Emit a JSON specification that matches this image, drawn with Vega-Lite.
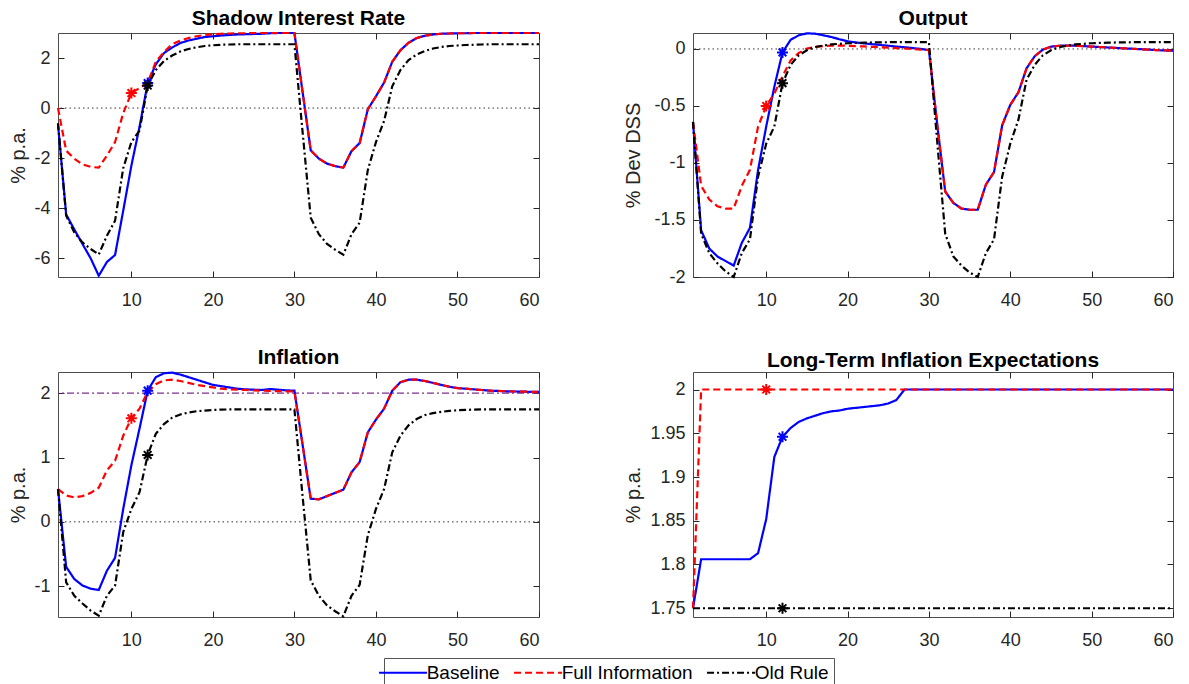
{
"$schema": "https://vega.github.io/schema/vega-lite/v6.json",
"padding": {"left": 7, "top": 7, "right": 0, "bottom": 0},
"datasets": {
"shadow": [
{"t":1,"Baseline":-0.64,"Full Information":0,"Old Rule":-0.6},
{"t":2,"Baseline":-4.25,"Full Information":-1.7,"Old Rule":-4.3},
{"t":3,"Baseline":-4.85,"Full Information":-2.02,"Old Rule":-4.97},
{"t":4,"Baseline":-5.43,"Full Information":-2.25,"Old Rule":-5.37},
{"t":5,"Baseline":-6.0,"Full Information":-2.35,"Old Rule":-5.63},
{"t":6,"Baseline":-6.7,"Full Information":-2.38,"Old Rule":-5.85},
{"t":7,"Baseline":-6.15,"Full Information":-1.9,"Old Rule":-5.1},
{"t":8,"Baseline":-5.87,"Full Information":-1.36,"Old Rule":-4.5},
{"t":9,"Baseline":-4.1,"Full Information":-0.2,"Old Rule":-2.4},
{"t":10,"Baseline":-2.3,"Full Information":0.6,"Old Rule":-1.36},
{"t":11,"Baseline":-0.75,"Full Information":0.8,"Old Rule":-0.9},
{"t":12,"Baseline":1.0,"Full Information":1.0,"Old Rule":0.9},
{"t":13,"Baseline":1.75,"Full Information":1.85,"Old Rule":1.52},
{"t":14,"Baseline":2.2,"Full Information":2.24,"Old Rule":1.88},
{"t":15,"Baseline":2.42,"Full Information":2.55,"Old Rule":2.1},
{"t":16,"Baseline":2.6,"Full Information":2.7,"Old Rule":2.26},
{"t":17,"Baseline":2.7,"Full Information":2.8,"Old Rule":2.36},
{"t":18,"Baseline":2.77,"Full Information":2.87,"Old Rule":2.43},
{"t":19,"Baseline":2.84,"Full Information":2.92,"Old Rule":2.48},
{"t":20,"Baseline":2.87,"Full Information":2.95,"Old Rule":2.51},
{"t":21,"Baseline":2.9,"Full Information":2.97,"Old Rule":2.53},
{"t":22,"Baseline":2.92,"Full Information":2.98,"Old Rule":2.54},
{"t":23,"Baseline":2.94,"Full Information":2.99,"Old Rule":2.55},
{"t":24,"Baseline":2.95,"Full Information":2.99,"Old Rule":2.55},
{"t":25,"Baseline":2.96,"Full Information":3.0,"Old Rule":2.55},
{"t":26,"Baseline":2.97,"Full Information":3.0,"Old Rule":2.55},
{"t":27,"Baseline":2.99,"Full Information":3.0,"Old Rule":2.55},
{"t":28,"Baseline":3.0,"Full Information":3.0,"Old Rule":2.55},
{"t":29,"Baseline":3.0,"Full Information":3.0,"Old Rule":2.55},
{"t":30,"Baseline":3.0,"Full Information":3.0,"Old Rule":2.55},
{"t":31,"Baseline":0.65,"Full Information":0.65,"Old Rule":-0.95},
{"t":32,"Baseline":-1.69,"Full Information":-1.69,"Old Rule":-4.38},
{"t":33,"Baseline":-2.02,"Full Information":-2.02,"Old Rule":-5.04},
{"t":34,"Baseline":-2.22,"Full Information":-2.22,"Old Rule":-5.43},
{"t":35,"Baseline":-2.32,"Full Information":-2.32,"Old Rule":-5.66},
{"t":36,"Baseline":-2.38,"Full Information":-2.38,"Old Rule":-5.86},
{"t":37,"Baseline":-1.72,"Full Information":-1.72,"Old Rule":-5.04},
{"t":38,"Baseline":-1.4,"Full Information":-1.4,"Old Rule":-4.58},
{"t":39,"Baseline":-0.05,"Full Information":-0.05,"Old Rule":-2.48},
{"t":40,"Baseline":0.47,"Full Information":0.47,"Old Rule":-1.36},
{"t":41,"Baseline":1.02,"Full Information":1.02,"Old Rule":-0.51},
{"t":42,"Baseline":1.85,"Full Information":1.85,"Old Rule":0.87},
{"t":43,"Baseline":2.31,"Full Information":2.31,"Old Rule":1.52},
{"t":44,"Baseline":2.61,"Full Information":2.61,"Old Rule":1.92},
{"t":45,"Baseline":2.8,"Full Information":2.8,"Old Rule":2.14},
{"t":46,"Baseline":2.89,"Full Information":2.89,"Old Rule":2.28},
{"t":47,"Baseline":2.94,"Full Information":2.94,"Old Rule":2.38},
{"t":48,"Baseline":2.97,"Full Information":2.97,"Old Rule":2.44},
{"t":49,"Baseline":2.98,"Full Information":2.98,"Old Rule":2.48},
{"t":50,"Baseline":2.99,"Full Information":2.99,"Old Rule":2.5},
{"t":51,"Baseline":2.99,"Full Information":2.99,"Old Rule":2.52},
{"t":52,"Baseline":3.0,"Full Information":3.0,"Old Rule":2.53},
{"t":53,"Baseline":3.0,"Full Information":3.0,"Old Rule":2.54},
{"t":54,"Baseline":3.0,"Full Information":3.0,"Old Rule":2.55},
{"t":55,"Baseline":3.0,"Full Information":3.0,"Old Rule":2.55},
{"t":56,"Baseline":3.0,"Full Information":3.0,"Old Rule":2.55},
{"t":57,"Baseline":3.0,"Full Information":3.0,"Old Rule":2.55},
{"t":58,"Baseline":3.0,"Full Information":3.0,"Old Rule":2.55},
{"t":59,"Baseline":3.0,"Full Information":3.0,"Old Rule":2.55},
{"t":60,"Baseline":3.0,"Full Information":3.0,"Old Rule":2.55}
],
"output": [
{"t":1,"Baseline":-0.64,"Full Information":-0.64,"Old Rule":-0.64},
{"t":2,"Baseline":-1.59,"Full Information":-1.2,"Old Rule":-1.62},
{"t":3,"Baseline":-1.75,"Full Information":-1.32,"Old Rule":-1.79},
{"t":4,"Baseline":-1.82,"Full Information":-1.38,"Old Rule":-1.88},
{"t":5,"Baseline":-1.86,"Full Information":-1.4,"Old Rule":-1.95},
{"t":6,"Baseline":-1.9,"Full Information":-1.4,"Old Rule":-2.0},
{"t":7,"Baseline":-1.7,"Full Information":-1.2,"Old Rule":-1.79},
{"t":8,"Baseline":-1.57,"Full Information":-1.06,"Old Rule":-1.67},
{"t":9,"Baseline":-1.06,"Full Information":-0.68,"Old Rule":-1.12},
{"t":10,"Baseline":-0.68,"Full Information":-0.5,"Old Rule":-0.83},
{"t":11,"Baseline":-0.33,"Full Information":-0.39,"Old Rule":-0.68},
{"t":12,"Baseline":-0.03,"Full Information":-0.24,"Old Rule":-0.3},
{"t":13,"Baseline":0.08,"Full Information":-0.1,"Old Rule":-0.14},
{"t":14,"Baseline":0.12,"Full Information":-0.035,"Old Rule":-0.055},
{"t":15,"Baseline":0.137,"Full Information":0.003,"Old Rule":-0.012},
{"t":16,"Baseline":0.134,"Full Information":0.018,"Old Rule":0.017},
{"t":17,"Baseline":0.12,"Full Information":0.026,"Old Rule":0.03},
{"t":18,"Baseline":0.105,"Full Information":0.03,"Old Rule":0.04},
{"t":19,"Baseline":0.085,"Full Information":0.03,"Old Rule":0.045},
{"t":20,"Baseline":0.067,"Full Information":0.028,"Old Rule":0.05},
{"t":21,"Baseline":0.057,"Full Information":0.025,"Old Rule":0.053},
{"t":22,"Baseline":0.049,"Full Information":0.022,"Old Rule":0.055},
{"t":23,"Baseline":0.042,"Full Information":0.018,"Old Rule":0.057},
{"t":24,"Baseline":0.035,"Full Information":0.015,"Old Rule":0.058},
{"t":25,"Baseline":0.028,"Full Information":0.011,"Old Rule":0.059},
{"t":26,"Baseline":0.021,"Full Information":0.007,"Old Rule":0.06},
{"t":27,"Baseline":0.015,"Full Information":0.004,"Old Rule":0.06},
{"t":28,"Baseline":0.008,"Full Information":0.0,"Old Rule":0.06},
{"t":29,"Baseline":0.0,"Full Information":-0.005,"Old Rule":0.06},
{"t":30,"Baseline":-0.01,"Full Information":-0.01,"Old Rule":0.06},
{"t":31,"Baseline":-0.65,"Full Information":-0.65,"Old Rule":-0.8},
{"t":32,"Baseline":-1.25,"Full Information":-1.25,"Old Rule":-1.62},
{"t":33,"Baseline":-1.35,"Full Information":-1.35,"Old Rule":-1.82},
{"t":34,"Baseline":-1.4,"Full Information":-1.4,"Old Rule":-1.9},
{"t":35,"Baseline":-1.41,"Full Information":-1.41,"Old Rule":-1.96},
{"t":36,"Baseline":-1.41,"Full Information":-1.41,"Old Rule":-2.0},
{"t":37,"Baseline":-1.19,"Full Information":-1.19,"Old Rule":-1.79},
{"t":38,"Baseline":-1.08,"Full Information":-1.08,"Old Rule":-1.67},
{"t":39,"Baseline":-0.67,"Full Information":-0.67,"Old Rule":-1.12},
{"t":40,"Baseline":-0.49,"Full Information":-0.49,"Old Rule":-0.83},
{"t":41,"Baseline":-0.38,"Full Information":-0.38,"Old Rule":-0.62},
{"t":42,"Baseline":-0.17,"Full Information":-0.17,"Old Rule":-0.27},
{"t":43,"Baseline":-0.064,"Full Information":-0.064,"Old Rule":-0.14},
{"t":44,"Baseline":-0.006,"Full Information":-0.006,"Old Rule":-0.055},
{"t":45,"Baseline":0.02,"Full Information":0.02,"Old Rule":-0.012},
{"t":46,"Baseline":0.028,"Full Information":0.028,"Old Rule":0.015},
{"t":47,"Baseline":0.03,"Full Information":0.03,"Old Rule":0.03},
{"t":48,"Baseline":0.028,"Full Information":0.028,"Old Rule":0.04},
{"t":49,"Baseline":0.025,"Full Information":0.025,"Old Rule":0.045},
{"t":50,"Baseline":0.021,"Full Information":0.021,"Old Rule":0.05},
{"t":51,"Baseline":0.017,"Full Information":0.017,"Old Rule":0.053},
{"t":52,"Baseline":0.013,"Full Information":0.013,"Old Rule":0.055},
{"t":53,"Baseline":0.009,"Full Information":0.009,"Old Rule":0.057},
{"t":54,"Baseline":0.005,"Full Information":0.005,"Old Rule":0.058},
{"t":55,"Baseline":0.002,"Full Information":0.002,"Old Rule":0.059},
{"t":56,"Baseline":-0.002,"Full Information":-0.002,"Old Rule":0.06},
{"t":57,"Baseline":-0.006,"Full Information":-0.006,"Old Rule":0.06},
{"t":58,"Baseline":-0.01,"Full Information":-0.01,"Old Rule":0.06},
{"t":59,"Baseline":-0.013,"Full Information":-0.013,"Old Rule":0.06},
{"t":60,"Baseline":-0.016,"Full Information":-0.016,"Old Rule":0.06}
],
"infl": [
{"t":1,"Baseline":0.51,"Full Information":0.51,"Old Rule":0.51},
{"t":2,"Baseline":-0.7,"Full Information":0.41,"Old Rule":-0.94},
{"t":3,"Baseline":-0.89,"Full Information":0.38,"Old Rule":-1.15},
{"t":4,"Baseline":-0.99,"Full Information":0.4,"Old Rule":-1.27},
{"t":5,"Baseline":-1.04,"Full Information":0.45,"Old Rule":-1.38},
{"t":6,"Baseline":-1.06,"Full Information":0.53,"Old Rule":-1.46},
{"t":7,"Baseline":-0.76,"Full Information":0.8,"Old Rule":-1.15},
{"t":8,"Baseline":-0.56,"Full Information":0.95,"Old Rule":-0.99},
{"t":9,"Baseline":0.2,"Full Information":1.34,"Old Rule":-0.16},
{"t":10,"Baseline":0.88,"Full Information":1.61,"Old Rule":0.2},
{"t":11,"Baseline":1.45,"Full Information":1.76,"Old Rule":0.46},
{"t":12,"Baseline":2.04,"Full Information":2.02,"Old Rule":1.04},
{"t":13,"Baseline":2.25,"Full Information":2.14,"Old Rule":1.37},
{"t":14,"Baseline":2.31,"Full Information":2.2,"Old Rule":1.52},
{"t":15,"Baseline":2.32,"Full Information":2.21,"Old Rule":1.62},
{"t":16,"Baseline":2.29,"Full Information":2.19,"Old Rule":1.67},
{"t":17,"Baseline":2.25,"Full Information":2.16,"Old Rule":1.7},
{"t":18,"Baseline":2.21,"Full Information":2.13,"Old Rule":1.72},
{"t":19,"Baseline":2.17,"Full Information":2.11,"Old Rule":1.73},
{"t":20,"Baseline":2.13,"Full Information":2.09,"Old Rule":1.74},
{"t":21,"Baseline":2.11,"Full Information":2.07,"Old Rule":1.745},
{"t":22,"Baseline":2.09,"Full Information":2.06,"Old Rule":1.748},
{"t":23,"Baseline":2.07,"Full Information":2.055,"Old Rule":1.75},
{"t":24,"Baseline":2.06,"Full Information":2.05,"Old Rule":1.75},
{"t":25,"Baseline":2.055,"Full Information":2.045,"Old Rule":1.75},
{"t":26,"Baseline":2.05,"Full Information":2.04,"Old Rule":1.75},
{"t":27,"Baseline":2.065,"Full Information":2.035,"Old Rule":1.75},
{"t":28,"Baseline":2.055,"Full Information":2.033,"Old Rule":1.75},
{"t":29,"Baseline":2.045,"Full Information":2.03,"Old Rule":1.75},
{"t":30,"Baseline":2.04,"Full Information":2.03,"Old Rule":1.75},
{"t":31,"Baseline":1.2,"Full Information":1.2,"Old Rule":0.4},
{"t":32,"Baseline":0.36,"Full Information":0.36,"Old Rule":-0.91},
{"t":33,"Baseline":0.35,"Full Information":0.35,"Old Rule":-1.15},
{"t":34,"Baseline":0.4,"Full Information":0.4,"Old Rule":-1.3},
{"t":35,"Baseline":0.45,"Full Information":0.45,"Old Rule":-1.39},
{"t":36,"Baseline":0.5,"Full Information":0.5,"Old Rule":-1.47},
{"t":37,"Baseline":0.77,"Full Information":0.77,"Old Rule":-1.15},
{"t":38,"Baseline":0.93,"Full Information":0.93,"Old Rule":-0.98},
{"t":39,"Baseline":1.39,"Full Information":1.39,"Old Rule":-0.21},
{"t":40,"Baseline":1.59,"Full Information":1.59,"Old Rule":0.2},
{"t":41,"Baseline":1.76,"Full Information":1.76,"Old Rule":0.51},
{"t":42,"Baseline":2.04,"Full Information":2.04,"Old Rule":1.08},
{"t":43,"Baseline":2.17,"Full Information":2.17,"Old Rule":1.34},
{"t":44,"Baseline":2.21,"Full Information":2.21,"Old Rule":1.5},
{"t":45,"Baseline":2.21,"Full Information":2.21,"Old Rule":1.6},
{"t":46,"Baseline":2.19,"Full Information":2.19,"Old Rule":1.66},
{"t":47,"Baseline":2.16,"Full Information":2.16,"Old Rule":1.69},
{"t":48,"Baseline":2.13,"Full Information":2.13,"Old Rule":1.71},
{"t":49,"Baseline":2.1,"Full Information":2.1,"Old Rule":1.725},
{"t":50,"Baseline":2.08,"Full Information":2.08,"Old Rule":1.735},
{"t":51,"Baseline":2.07,"Full Information":2.07,"Old Rule":1.74},
{"t":52,"Baseline":2.06,"Full Information":2.06,"Old Rule":1.745},
{"t":53,"Baseline":2.05,"Full Information":2.05,"Old Rule":1.748},
{"t":54,"Baseline":2.04,"Full Information":2.04,"Old Rule":1.75},
{"t":55,"Baseline":2.035,"Full Information":2.035,"Old Rule":1.75},
{"t":56,"Baseline":2.03,"Full Information":2.03,"Old Rule":1.75},
{"t":57,"Baseline":2.027,"Full Information":2.027,"Old Rule":1.75},
{"t":58,"Baseline":2.025,"Full Information":2.025,"Old Rule":1.75},
{"t":59,"Baseline":2.022,"Full Information":2.022,"Old Rule":1.75},
{"t":60,"Baseline":2.02,"Full Information":2.02,"Old Rule":1.75}
],
"lt": [
{"t":1,"Baseline":1.75,"Full Information":1.75,"Old Rule":1.75},
{"t":2,"Baseline":1.806,"Full Information":2.0,"Old Rule":1.75},
{"t":3,"Baseline":1.806,"Full Information":2.0,"Old Rule":1.75},
{"t":4,"Baseline":1.806,"Full Information":2.0,"Old Rule":1.75},
{"t":5,"Baseline":1.806,"Full Information":2.0,"Old Rule":1.75},
{"t":6,"Baseline":1.806,"Full Information":2.0,"Old Rule":1.75},
{"t":7,"Baseline":1.806,"Full Information":2.0,"Old Rule":1.75},
{"t":8,"Baseline":1.806,"Full Information":2.0,"Old Rule":1.75},
{"t":9,"Baseline":1.813,"Full Information":2.0,"Old Rule":1.75},
{"t":10,"Baseline":1.852,"Full Information":2.0,"Old Rule":1.75},
{"t":11,"Baseline":1.923,"Full Information":2.0,"Old Rule":1.75},
{"t":12,"Baseline":1.946,"Full Information":2.0,"Old Rule":1.75},
{"t":13,"Baseline":1.956,"Full Information":2.0,"Old Rule":1.75},
{"t":14,"Baseline":1.963,"Full Information":2.0,"Old Rule":1.75},
{"t":15,"Baseline":1.967,"Full Information":2.0,"Old Rule":1.75},
{"t":16,"Baseline":1.970,"Full Information":2.0,"Old Rule":1.75},
{"t":17,"Baseline":1.973,"Full Information":2.0,"Old Rule":1.75},
{"t":18,"Baseline":1.975,"Full Information":2.0,"Old Rule":1.75},
{"t":19,"Baseline":1.976,"Full Information":2.0,"Old Rule":1.75},
{"t":20,"Baseline":1.978,"Full Information":2.0,"Old Rule":1.75},
{"t":21,"Baseline":1.979,"Full Information":2.0,"Old Rule":1.75},
{"t":22,"Baseline":1.980,"Full Information":2.0,"Old Rule":1.75},
{"t":23,"Baseline":1.981,"Full Information":2.0,"Old Rule":1.75},
{"t":24,"Baseline":1.982,"Full Information":2.0,"Old Rule":1.75},
{"t":25,"Baseline":1.984,"Full Information":2.0,"Old Rule":1.75},
{"t":26,"Baseline":1.988,"Full Information":2.0,"Old Rule":1.75},
{"t":27,"Baseline":2.0,"Full Information":2.0,"Old Rule":1.75},
{"t":28,"Baseline":2.0,"Full Information":2.0,"Old Rule":1.75},
{"t":29,"Baseline":2.0,"Full Information":2.0,"Old Rule":1.75},
{"t":30,"Baseline":2.0,"Full Information":2.0,"Old Rule":1.75},
{"t":31,"Baseline":2.0,"Full Information":2.0,"Old Rule":1.75},
{"t":32,"Baseline":2.0,"Full Information":2.0,"Old Rule":1.75},
{"t":33,"Baseline":2.0,"Full Information":2.0,"Old Rule":1.75},
{"t":34,"Baseline":2.0,"Full Information":2.0,"Old Rule":1.75},
{"t":35,"Baseline":2.0,"Full Information":2.0,"Old Rule":1.75},
{"t":36,"Baseline":2.0,"Full Information":2.0,"Old Rule":1.75},
{"t":37,"Baseline":2.0,"Full Information":2.0,"Old Rule":1.75},
{"t":38,"Baseline":2.0,"Full Information":2.0,"Old Rule":1.75},
{"t":39,"Baseline":2.0,"Full Information":2.0,"Old Rule":1.75},
{"t":40,"Baseline":2.0,"Full Information":2.0,"Old Rule":1.75},
{"t":41,"Baseline":2.0,"Full Information":2.0,"Old Rule":1.75},
{"t":42,"Baseline":2.0,"Full Information":2.0,"Old Rule":1.75},
{"t":43,"Baseline":2.0,"Full Information":2.0,"Old Rule":1.75},
{"t":44,"Baseline":2.0,"Full Information":2.0,"Old Rule":1.75},
{"t":45,"Baseline":2.0,"Full Information":2.0,"Old Rule":1.75},
{"t":46,"Baseline":2.0,"Full Information":2.0,"Old Rule":1.75},
{"t":47,"Baseline":2.0,"Full Information":2.0,"Old Rule":1.75},
{"t":48,"Baseline":2.0,"Full Information":2.0,"Old Rule":1.75},
{"t":49,"Baseline":2.0,"Full Information":2.0,"Old Rule":1.75},
{"t":50,"Baseline":2.0,"Full Information":2.0,"Old Rule":1.75},
{"t":51,"Baseline":2.0,"Full Information":2.0,"Old Rule":1.75},
{"t":52,"Baseline":2.0,"Full Information":2.0,"Old Rule":1.75},
{"t":53,"Baseline":2.0,"Full Information":2.0,"Old Rule":1.75},
{"t":54,"Baseline":2.0,"Full Information":2.0,"Old Rule":1.75},
{"t":55,"Baseline":2.0,"Full Information":2.0,"Old Rule":1.75},
{"t":56,"Baseline":2.0,"Full Information":2.0,"Old Rule":1.75},
{"t":57,"Baseline":2.0,"Full Information":2.0,"Old Rule":1.75},
{"t":58,"Baseline":2.0,"Full Information":2.0,"Old Rule":1.75},
{"t":59,"Baseline":2.0,"Full Information":2.0,"Old Rule":1.75},
{"t":60,"Baseline":2.0,"Full Information":2.0,"Old Rule":1.75}
],
"zero": [{"ref": 0}],
"target": [{"ref": 2}]
},
"config": {
"font": "Liberation Sans",
"view": {"stroke": "#4d4d4d", "strokeWidth": 1},
"axis": {"grid": false, "domain": false, "labelFont": "Liberation Sans", "labelFontSize": 18, "labelColor": "#262626", "tickColor": "#262626", "tickSize": -6, "tickWidth": 1, "titleFont": "Liberation Sans", "titleFontSize": 20, "titleFontWeight": "normal", "titleColor": "#262626"},
"axisX": {"labelPadding": 20},
"axisY": {"labelPadding": 14},
"title": {"font": "Liberation Sans", "fontSize": 21, "fontWeight": "bold", "color": "#000000", "offset": 0.01, "frame": "group", "anchor": "middle"}
},
"spacing": 36,
"vconcat": [
{"hconcat": [
{"width": 481, "height": 244, "title": "Shadow Interest Rate",
 "resolve": {"axis": {"x": "independent", "y": "independent"}},
 "layer": [
  {"data": {"name": "zero"}, "mark": {"type": "rule", "color": "#333333", "strokeWidth": 1, "strokeDash": [1.5, 3]},
   "encoding": {"y": {"field": "ref", "type": "quantitative", "axis": null, "scale": {"domain": [-6.75, 3.0], "nice": false, "zero": false}}}},
  {"data": {"name": "shadow"}, "transform": [{"fold": ["Baseline", "Full Information", "Old Rule"], "as": ["series", "v"]}],
   "mark": {"type": "line", "strokeWidth": 2.2},
   "encoding": {
    "x": {"field": "t", "type": "quantitative", "scale": {"domain": [1, 60], "nice": false, "zero": false}, "axis": {"title": null, "values": [10, 20, 30, 40, 50, 60]}},
    "y": {"field": "v", "type": "quantitative", "scale": {"domain": [-6.75, 3.0], "nice": false, "zero": false}, "axis": {"title": "% p.a.", "values": [-6, -4, -2, 0, 2], "labelExpr": "'' + datum.value", "minExtent": 24, "maxExtent": 24, "titlePadding": 6}},
    "color": {"field": "series", "type": "nominal", "scale": {"domain": ["Baseline", "Full Information", "Old Rule"], "range": ["#0000ff", "#ff0000", "#000000"]},
      "legend": {"title": null, "orient": "none", "legendX": 326, "legendY": 625, "direction": "horizontal", "symbolType": "M-5,0H5", "symbolSize": 92.16, "symbolStrokeWidth": 2, "symbolOffset": 4.55, "labelOffset": 14.1, "labelFont": "Liberation Sans", "labelFontSize": 19, "labelColor": "#000000", "strokeColor": "#555555", "fillColor": "#ffffff", "padding": 5, "columnPadding": 10}},
    "strokeDash": {"field": "series", "type": "nominal", "scale": {"domain": ["Baseline", "Full Information", "Old Rule"], "range": [[1, 0], [7, 4], [7, 3, 2, 3]]},
      "legend": {"title": null, "orient": "none", "legendX": 326, "legendY": 625, "direction": "horizontal", "symbolType": "M-5,0H5", "symbolSize": 92.16, "symbolStrokeWidth": 2, "symbolOffset": 4.55, "labelOffset": 14.1, "labelFont": "Liberation Sans", "labelFontSize": 19, "labelColor": "#000000", "strokeColor": "#555555", "fillColor": "#ffffff", "padding": 5, "columnPadding": 10}}
   }},
  {"data": {"name": "shadow"}, "transform": [{"fold": ["Baseline", "Full Information", "Old Rule"], "as": ["series", "v"]}, {"filter": "(datum.series == 'Full Information' && datum.t == 10) || (datum.series != 'Full Information' && datum.t == 12)"}],
   "mark": {"type": "point", "shape": "M0,-1V1M-1,0H1M-0.7,-0.7L0.7,0.7M-0.7,0.7L0.7,-0.7", "filled": false, "strokeWidth": 2, "size": 121, "opacity": 1},
   "encoding": {
    "x": {"field": "t", "type": "quantitative", "scale": {"domain": [1, 60], "nice": false, "zero": false}, "axis": null},
    "y": {"field": "v", "type": "quantitative", "scale": {"domain": [-6.75, 3.0], "nice": false, "zero": false}, "axis": null},
    "stroke": {"field": "series", "type": "nominal", "scale": {"domain": ["Baseline", "Full Information", "Old Rule"], "range": ["#0000ff", "#ff0000", "#000000"]}, "legend": null}
   }},
  {"data": {"name": "shadow"}, "transform": [{"fold": ["Baseline", "Full Information", "Old Rule"], "as": ["series", "v"]}],
   "mark": {"type": "point", "opacity": 0},
   "encoding": {
    "x": {"field": "t", "type": "quantitative", "scale": {"domain": [1, 60], "nice": false, "zero": false}, "axis": {"orient": "top", "labels": false, "title": null, "values": [10, 20, 30, 40, 50, 60], "minExtent": 0, "maxExtent": 0}},
    "y": {"field": "v", "type": "quantitative", "scale": {"domain": [-6.75, 3.0], "nice": false, "zero": false}, "axis": {"orient": "right", "labels": false, "title": null, "values": [-6, -4, -2, 0, 2], "minExtent": 0, "maxExtent": 0}}
   }}
 ]},
{"width": 480, "height": 244, "title": "Output",
 "resolve": {"axis": {"x": "independent", "y": "independent"}},
 "layer": [
  {"data": {"name": "zero"}, "mark": {"type": "rule", "color": "#333333", "strokeWidth": 1, "strokeDash": [1.5, 3]},
   "encoding": {"y": {"field": "ref", "type": "quantitative", "axis": null, "scale": {"domain": [-2.0, 0.14], "nice": false, "zero": false}}}},
  {"data": {"name": "output"}, "transform": [{"fold": ["Baseline", "Full Information", "Old Rule"], "as": ["series", "v"]}],
   "mark": {"type": "line", "strokeWidth": 2.2},
   "encoding": {
    "x": {"field": "t", "type": "quantitative", "scale": {"domain": [1, 60], "nice": false, "zero": false}, "axis": {"title": null, "values": [10, 20, 30, 40, 50, 60]}},
    "y": {"field": "v", "type": "quantitative", "scale": {"domain": [-2.0, 0.14], "nice": false, "zero": false}, "axis": {"title": "% Dev DSS", "values": [-2, -1.5, -1, -0.5, 0], "labelExpr": "'' + datum.value", "minExtent": 40, "maxExtent": 40, "titlePadding": 10}},
    "color": {"field": "series", "type": "nominal", "scale": {"domain": ["Baseline", "Full Information", "Old Rule"], "range": ["#0000ff", "#ff0000", "#000000"]},
      "legend": {"title": null, "orient": "none", "legendX": 326, "legendY": 625, "direction": "horizontal", "symbolType": "M-5,0H5", "symbolSize": 92.16, "symbolStrokeWidth": 2, "symbolOffset": 4.55, "labelOffset": 14.1, "labelFont": "Liberation Sans", "labelFontSize": 19, "labelColor": "#000000", "strokeColor": "#555555", "fillColor": "#ffffff", "padding": 5, "columnPadding": 10}},
    "strokeDash": {"field": "series", "type": "nominal", "scale": {"domain": ["Baseline", "Full Information", "Old Rule"], "range": [[1, 0], [7, 4], [7, 3, 2, 3]]},
      "legend": {"title": null, "orient": "none", "legendX": 326, "legendY": 625, "direction": "horizontal", "symbolType": "M-5,0H5", "symbolSize": 92.16, "symbolStrokeWidth": 2, "symbolOffset": 4.55, "labelOffset": 14.1, "labelFont": "Liberation Sans", "labelFontSize": 19, "labelColor": "#000000", "strokeColor": "#555555", "fillColor": "#ffffff", "padding": 5, "columnPadding": 10}}
   }},
  {"data": {"name": "output"}, "transform": [{"fold": ["Baseline", "Full Information", "Old Rule"], "as": ["series", "v"]}, {"filter": "(datum.series == 'Full Information' && datum.t == 10) || (datum.series != 'Full Information' && datum.t == 12)"}],
   "mark": {"type": "point", "shape": "M0,-1V1M-1,0H1M-0.7,-0.7L0.7,0.7M-0.7,0.7L0.7,-0.7", "filled": false, "strokeWidth": 2, "size": 121, "opacity": 1},
   "encoding": {
    "x": {"field": "t", "type": "quantitative", "scale": {"domain": [1, 60], "nice": false, "zero": false}, "axis": null},
    "y": {"field": "v", "type": "quantitative", "scale": {"domain": [-2.0, 0.14], "nice": false, "zero": false}, "axis": null},
    "stroke": {"field": "series", "type": "nominal", "scale": {"domain": ["Baseline", "Full Information", "Old Rule"], "range": ["#0000ff", "#ff0000", "#000000"]}, "legend": null}
   }},
  {"data": {"name": "output"}, "transform": [{"fold": ["Baseline", "Full Information", "Old Rule"], "as": ["series", "v"]}],
   "mark": {"type": "point", "opacity": 0},
   "encoding": {
    "x": {"field": "t", "type": "quantitative", "scale": {"domain": [1, 60], "nice": false, "zero": false}, "axis": {"orient": "top", "labels": false, "title": null, "values": [10, 20, 30, 40, 50, 60], "minExtent": 0, "maxExtent": 0}},
    "y": {"field": "v", "type": "quantitative", "scale": {"domain": [-2.0, 0.14], "nice": false, "zero": false}, "axis": {"orient": "right", "labels": false, "title": null, "values": [-2, -1.5, -1, -0.5, 0], "minExtent": 0, "maxExtent": 0}}
   }}
 ]}
], "spacing": 78},
{"hconcat": [
{"width": 481, "height": 245, "title": "Inflation",
 "resolve": {"axis": {"x": "independent", "y": "independent"}},
 "layer": [
  {"data": {"name": "zero"}, "mark": {"type": "rule", "color": "#333333", "strokeWidth": 1, "strokeDash": [1.5, 3]},
   "encoding": {"y": {"field": "ref", "type": "quantitative", "axis": null, "scale": {"domain": [-1.48, 2.33], "nice": false, "zero": false}}}},
  {"data": {"name": "target"}, "mark": {"type": "rule", "color": "#7e2f8e", "strokeWidth": 1.2, "strokeDash": [7, 3, 2, 3]},
   "encoding": {"y": {"field": "ref", "type": "quantitative", "axis": null, "scale": {"domain": [-1.48, 2.33], "nice": false, "zero": false}}}},
  {"data": {"name": "infl"}, "transform": [{"fold": ["Baseline", "Full Information", "Old Rule"], "as": ["series", "v"]}],
   "mark": {"type": "line", "strokeWidth": 2.2},
   "encoding": {
    "x": {"field": "t", "type": "quantitative", "scale": {"domain": [1, 60], "nice": false, "zero": false}, "axis": {"title": null, "values": [10, 20, 30, 40, 50, 60]}},
    "y": {"field": "v", "type": "quantitative", "scale": {"domain": [-1.48, 2.33], "nice": false, "zero": false}, "axis": {"title": "% p.a.", "values": [-1, 0, 1, 2], "labelExpr": "'' + datum.value", "minExtent": 24, "maxExtent": 24, "titlePadding": 6}},
    "color": {"field": "series", "type": "nominal", "scale": {"domain": ["Baseline", "Full Information", "Old Rule"], "range": ["#0000ff", "#ff0000", "#000000"]},
      "legend": {"title": null, "orient": "none", "legendX": 326, "legendY": 625, "direction": "horizontal", "symbolType": "M-5,0H5", "symbolSize": 92.16, "symbolStrokeWidth": 2, "symbolOffset": 4.55, "labelOffset": 14.1, "labelFont": "Liberation Sans", "labelFontSize": 19, "labelColor": "#000000", "strokeColor": "#555555", "fillColor": "#ffffff", "padding": 5, "columnPadding": 10}},
    "strokeDash": {"field": "series", "type": "nominal", "scale": {"domain": ["Baseline", "Full Information", "Old Rule"], "range": [[1, 0], [7, 4], [7, 3, 2, 3]]},
      "legend": {"title": null, "orient": "none", "legendX": 326, "legendY": 625, "direction": "horizontal", "symbolType": "M-5,0H5", "symbolSize": 92.16, "symbolStrokeWidth": 2, "symbolOffset": 4.55, "labelOffset": 14.1, "labelFont": "Liberation Sans", "labelFontSize": 19, "labelColor": "#000000", "strokeColor": "#555555", "fillColor": "#ffffff", "padding": 5, "columnPadding": 10}}
   }},
  {"data": {"name": "infl"}, "transform": [{"fold": ["Baseline", "Full Information", "Old Rule"], "as": ["series", "v"]}, {"filter": "(datum.series == 'Full Information' && datum.t == 10) || (datum.series != 'Full Information' && datum.t == 12)"}],
   "mark": {"type": "point", "shape": "M0,-1V1M-1,0H1M-0.7,-0.7L0.7,0.7M-0.7,0.7L0.7,-0.7", "filled": false, "strokeWidth": 2, "size": 121, "opacity": 1},
   "encoding": {
    "x": {"field": "t", "type": "quantitative", "scale": {"domain": [1, 60], "nice": false, "zero": false}, "axis": null},
    "y": {"field": "v", "type": "quantitative", "scale": {"domain": [-1.48, 2.33], "nice": false, "zero": false}, "axis": null},
    "stroke": {"field": "series", "type": "nominal", "scale": {"domain": ["Baseline", "Full Information", "Old Rule"], "range": ["#0000ff", "#ff0000", "#000000"]}, "legend": null}
   }},
  {"data": {"name": "infl"}, "transform": [{"fold": ["Baseline", "Full Information", "Old Rule"], "as": ["series", "v"]}],
   "mark": {"type": "point", "opacity": 0},
   "encoding": {
    "x": {"field": "t", "type": "quantitative", "scale": {"domain": [1, 60], "nice": false, "zero": false}, "axis": {"orient": "top", "labels": false, "title": null, "values": [10, 20, 30, 40, 50, 60], "minExtent": 0, "maxExtent": 0}},
    "y": {"field": "v", "type": "quantitative", "scale": {"domain": [-1.48, 2.33], "nice": false, "zero": false}, "axis": {"orient": "right", "labels": false, "title": null, "values": [-1, 0, 1, 2], "minExtent": 0, "maxExtent": 0}}
   }}
 ]},
{"width": 480, "height": 245, "title": "Long-Term Inflation Expectations",
 "resolve": {"axis": {"x": "independent", "y": "independent"}},
 "layer": [
  {"data": {"name": "lt"}, "transform": [{"fold": ["Baseline", "Full Information", "Old Rule"], "as": ["series", "v"]}],
   "mark": {"type": "line", "strokeWidth": 2.2},
   "encoding": {
    "x": {"field": "t", "type": "quantitative", "scale": {"domain": [1, 60], "nice": false, "zero": false}, "axis": {"title": null, "values": [10, 20, 30, 40, 50, 60]}},
    "y": {"field": "v", "type": "quantitative", "scale": {"domain": [1.74, 2.02], "nice": false, "zero": false}, "axis": {"title": "% p.a.", "values": [1.75, 1.8, 1.85, 1.9, 1.95, 2], "labelExpr": "'' + datum.value", "minExtent": 40, "maxExtent": 40, "titlePadding": 10}},
    "color": {"field": "series", "type": "nominal", "scale": {"domain": ["Baseline", "Full Information", "Old Rule"], "range": ["#0000ff", "#ff0000", "#000000"]},
      "legend": {"title": null, "orient": "none", "legendX": 326, "legendY": 625, "direction": "horizontal", "symbolType": "M-5,0H5", "symbolSize": 92.16, "symbolStrokeWidth": 2, "symbolOffset": 4.55, "labelOffset": 14.1, "labelFont": "Liberation Sans", "labelFontSize": 19, "labelColor": "#000000", "strokeColor": "#555555", "fillColor": "#ffffff", "padding": 5, "columnPadding": 10}},
    "strokeDash": {"field": "series", "type": "nominal", "scale": {"domain": ["Baseline", "Full Information", "Old Rule"], "range": [[1, 0], [7, 4], [7, 3, 2, 3]]},
      "legend": {"title": null, "orient": "none", "legendX": 326, "legendY": 625, "direction": "horizontal", "symbolType": "M-5,0H5", "symbolSize": 92.16, "symbolStrokeWidth": 2, "symbolOffset": 4.55, "labelOffset": 14.1, "labelFont": "Liberation Sans", "labelFontSize": 19, "labelColor": "#000000", "strokeColor": "#555555", "fillColor": "#ffffff", "padding": 5, "columnPadding": 10}}
   }},
  {"data": {"name": "lt"}, "transform": [{"fold": ["Baseline", "Full Information", "Old Rule"], "as": ["series", "v"]}, {"filter": "(datum.series == 'Full Information' && datum.t == 10) || (datum.series != 'Full Information' && datum.t == 12)"}],
   "mark": {"type": "point", "shape": "M0,-1V1M-1,0H1M-0.7,-0.7L0.7,0.7M-0.7,0.7L0.7,-0.7", "filled": false, "strokeWidth": 2, "size": 121, "opacity": 1},
   "encoding": {
    "x": {"field": "t", "type": "quantitative", "scale": {"domain": [1, 60], "nice": false, "zero": false}, "axis": null},
    "y": {"field": "v", "type": "quantitative", "scale": {"domain": [1.74, 2.02], "nice": false, "zero": false}, "axis": null},
    "stroke": {"field": "series", "type": "nominal", "scale": {"domain": ["Baseline", "Full Information", "Old Rule"], "range": ["#0000ff", "#ff0000", "#000000"]}, "legend": null}
   }},
  {"data": {"name": "lt"}, "transform": [{"fold": ["Baseline", "Full Information", "Old Rule"], "as": ["series", "v"]}],
   "mark": {"type": "point", "opacity": 0},
   "encoding": {
    "x": {"field": "t", "type": "quantitative", "scale": {"domain": [1, 60], "nice": false, "zero": false}, "axis": {"orient": "top", "labels": false, "title": null, "values": [10, 20, 30, 40, 50, 60], "minExtent": 0, "maxExtent": 0}},
    "y": {"field": "v", "type": "quantitative", "scale": {"domain": [1.74, 2.02], "nice": false, "zero": false}, "axis": {"orient": "right", "labels": false, "title": null, "values": [1.75, 1.8, 1.85, 1.9, 1.95, 2], "minExtent": 0, "maxExtent": 0}}
   }}
 ]}
], "spacing": 78}
]
}
